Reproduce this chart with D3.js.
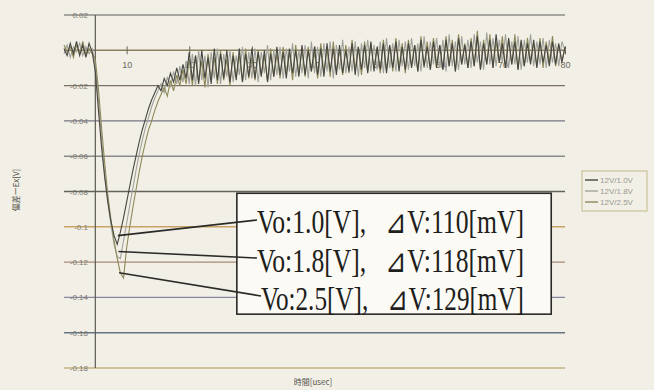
<!DOCTYPE html>
<html>
<head>
<meta charset="utf-8">
<script src="https://cdn.jsdelivr.net/npm/d3@7"></script>
<style>
  body { margin: 0; background: #f2f0e6; }
  svg { display: block; }
</style>
</head>
<body>
<svg id="chart"></svg>
<script>
// sample step of the scope capture, usec
const step = 0.5;

// deviation values in mV, one per sample (t = 0 .. 80 usec)
const dev10 = [
  1,-3,4,-2,5,-3,3,-4,4,-1,
  -12,-34,-55,-72,-86,-97,-105,-110,-103,-95,
  -86,-77,-68,-60,-52,-45,-39,-33,-28,-24,
  -20,-23,-16,-20,-13,-18,-10,-17,-8,-16,
  -1,-17,-3,-19,0,-16,-4,-19,1,-17,
  -2,-16,0,-18,-3,-17,1,-18,-2,-15,
  1,-16,-1,-15,0,-18,-2,-15,2,-14,
  -1,-16,1,-13,0,-15,3,-14,0,-12,
  2,-14,1,-15,4,-12,1,-14,3,-13,
  0,-12,4,-14,2,-11,3,-13,5,-12,
  2,-11,4,-13,3,-10,5,-12,2,-11,
  4,-10,3,-12,6,-9,2,-11,5,-10,
  3,-11,6,-9,4,-12,7,-8,3,-10,
  5,-9,8,-11,4,-8,6,-10,9,-7,
  4,-10,7,-8,5,-11,6,-9,4,-8,
  6,-10,5,-7,3,-9,5,-8,4,-7,
  2
];
const dev18 = [
  -2,3,-4,2,-1,4,-3,2,-2,1,
  -8,-28,-50,-70,-86,-99,-110,-117,-118,-108,
  -98,-88,-78,-68,-59,-51,-44,-38,-32,-27,
  -23,-19,-24,-15,-21,-12,-19,-9,-18,-6,
  -19,-2,-20,0,-17,-3,-21,-1,-16,1,
  -19,-2,-15,0,-18,-3,-14,2,-17,-1,
  -16,1,-18,-1,-13,3,-17,0,-14,2,
  -16,1,-12,4,-15,0,-13,3,-16,5,
  -13,2,-15,4,-12,5,-16,3,-11,6,
  -13,2,-12,5,-15,4,-10,6,-12,3,
  -11,5,-13,7,-10,4,-12,6,-9,5,
  -11,7,-9,4,-12,8,-10,5,-8,7,
  -10,6,-12,9,-9,5,-11,8,-8,6,
  -10,9,-7,5,-11,10,-8,7,-9,6,
  -7,9,-10,5,-8,8,-11,6,-7,9,
  -9,5,-8,7,-10,6,-7,4,-9,5,
  0
];
const dev25 = [
  3,-1,2,-4,3,-2,5,-3,1,-2,
  -5,-22,-44,-64,-82,-96,-108,-118,-126,-129,
  -112,-100,-89,-79,-69,-60,-52,-45,-40,-34,
  -29,-25,-21,-26,-17,-23,-14,-20,-11,-19,
  -5,-20,-3,-18,-6,-21,-2,-16,-4,-19,
  0,-17,-5,-20,-1,-15,-3,-18,1,-16,
  -4,-17,0,-14,-3,-18,1,-15,-2,-16,
  2,-13,-1,-17,3,-14,0,-15,2,-12,
  -1,-16,4,-13,1,-15,5,-12,0,-14,
  3,-13,6,-11,2,-14,5,-12,4,-10,
  1,-13,6,-11,3,-12,7,-10,4,-13,
  6,-9,3,-12,8,-10,5,-11,7,-8,
  3,-11,8,-9,6,-12,9,-8,4,-10,
  7,-9,11,-11,6,-8,9,-10,5,-7,
  8,-10,6,-8,9,-11,5,-9,7,-6,
  4,-9,7,-10,5,-7,8,-9,3,-6,
  1
];

const seriesNames = ["12V/1.0V", "12V/1.8V", "12V/2.5V"];
const seriesColors = ["#464642", "#a2a29c", "#8e895a"];

const yTicks = [0.02, 0, -0.02, -0.04, -0.06, -0.08, -0.1, -0.12, -0.14, -0.16, -0.18];
const yTickLabels = ["0.02", "0", "-0.02", "-0.04", "-0.06", "-0.08", "-0.1", "-0.12", "-0.14", "-0.16", "-0.18"];
const gridColors = ["#8c8c88", "#8a8060", "#7c7064", "#767684", "#8a8a88", "#62625e",
                    "#c9a264", "#a88a78", "#8a86a2", "#667282", "#c4b482"];
const xTicks = [10, 20, 30, 40, 50, 60, 70, 80];

// annotation: where each leader starts (usec, V) and its text
const noteT = [8.6, 8.7, 8.8];
const noteV = [-0.105, -0.114, -0.126];
const noteText = ["Vo:1.0[V],\u00a0\u00a0\u00a0⊿V:110[mV]",
                  "Vo:1.8[V],\u00a0\u00a0\u00a0⊿V:118[mV]",
                  "Vo:2.5[V],\u00a0\u00a0\u00a0⊿V:129[mV]"];

const width = 654, height = 390;
const x = d3.scaleLinear().domain([0, 80]).range([64, 565]);
const y = d3.scaleLinear().domain([0.02, -0.18]).range([15, 368]);
const yCross = 5; // vertical axis crosses at t = 5 usec

const svg = d3.select("#chart").attr("width", width).attr("height", height);
svg.append("rect").attr("width", width).attr("height", height).attr("fill", "#f2f0e6");

// gridlines
svg.append("g").selectAll("line")
  .data(yTicks)
  .enter().append("line")
  .attr("x1", x(0)).attr("x2", x(80))
  .attr("y1", d => y(d)).attr("y2", d => y(d))
  .attr("stroke", (d, i) => gridColors[i])
  .attr("stroke-width", 1.4);

// y labels
const yAxis = d3.axisLeft(y).tickValues(yTicks)
  .tickFormat((d, i) => yTickLabels[i]).tickSize(0).tickPadding(0);
svg.append("g")
  .attr("transform", "translate(88,0)")
  .call(yAxis)
  .call(g => g.select(".domain").remove())
  .selectAll("text")
  .attr("fill", "#7a7870")
  .style("font", "8px 'Liberation Sans', sans-serif");

// x axis at V = 0
const xAxis = d3.axisBottom(x).tickValues(xTicks).tickSize(4).tickPadding(7);
const gx = svg.append("g")
  .attr("transform", "translate(0," + y(0) + ")")
  .call(xAxis);
gx.select(".domain").remove();
gx.selectAll(".tick line").attr("y1", -4).attr("stroke", "#6a6650");
gx.selectAll(".tick text")
  .attr("fill", "#6a6860")
  .style("font", "9px 'Liberation Sans', sans-serif");

// vertical axis
svg.append("line")
  .attr("x1", x(yCross)).attr("x2", x(yCross))
  .attr("y1", y(0.02)).attr("y2", y(-0.18))
  .attr("stroke", "#5a5a54").attr("stroke-width", 1.2);

// waveforms
const line = d3.line()
  .x((d, i) => x(i * step))
  .y(d => y(d / 1000));

const allSeries = [dev10, dev18, dev25];
[1, 2, 0].forEach(k => {
  svg.append("path")
    .datum(allSeries[k])
    .attr("fill", "none")
    .attr("stroke", seriesColors[k])
    .attr("stroke-width", 1.1)
    .attr("d", line);
});

// annotation box
const box = { t0: 27.6, t1: 77.8, v0: -0.081, v1: -0.1495 };
svg.append("rect")
  .attr("x", x(box.t0)).attr("y", y(box.v0))
  .attr("width", x(box.t1) - x(box.t0))
  .attr("height", y(box.v1) - y(box.v0))
  .attr("fill", "#fbfaf4")
  .attr("stroke", "#2a2a28").attr("stroke-width", 1.6);

const rowBase = [233, 272, 310];
const rowStart = [257, 257, 261];
const rowMid = [220, 258, 296];
noteText.forEach((s, i) => {
  svg.append("line")
    .attr("x1", x(noteT[i])).attr("y1", y(noteV[i]))
    .attr("x2", rowStart[i]).attr("y2", rowMid[i])
    .attr("stroke", "#2a2a28").attr("stroke-width", 1.6);
  svg.append("text")
    .attr("x", rowStart[i]).attr("y", rowBase[i])
    .attr("textLength", 267 - (rowStart[i] - 257))
    .attr("lengthAdjust", "spacingAndGlyphs")
    .attr("fill", "#1e1e1c")
    .style("font", "33px 'Liberation Serif', 'DejaVu Serif', serif")
    .text(s);
});

// axis titles
svg.append("text")
  .attr("x", 313).attr("y", 385)
  .attr("text-anchor", "middle")
  .attr("fill", "#55534c")
  .style("font", "8px 'Noto Sans CJK JP', sans-serif")
  .text("時間[usec]");

svg.append("text")
  .attr("transform", "translate(19,190) rotate(-90)")
  .attr("text-anchor", "middle")
  .attr("fill", "#55534c")
  .style("font", "8px 'Noto Sans CJK JP', sans-serif")
  .text("偏差ーEx[V]");

// legend
const legend = svg.append("g").attr("transform", "translate(582,171)");
legend.append("rect")
  .attr("width", 65).attr("height", 40)
  .attr("fill", "none").attr("stroke", "#c2b88a").attr("stroke-width", 1);
seriesNames.forEach((n, i) => {
  legend.append("line")
    .attr("x1", 3).attr("x2", 16)
    .attr("y1", 9 + i * 11).attr("y2", 9 + i * 11)
    .attr("stroke", seriesColors[i]).attr("stroke-width", 1.4);
  legend.append("text")
    .attr("x", 18).attr("y", 12 + i * 11)
    .attr("fill", "#9a9890")
    .style("font", "8px 'Liberation Sans', sans-serif")
    .text(n);
});
</script>
</body>
</html>
